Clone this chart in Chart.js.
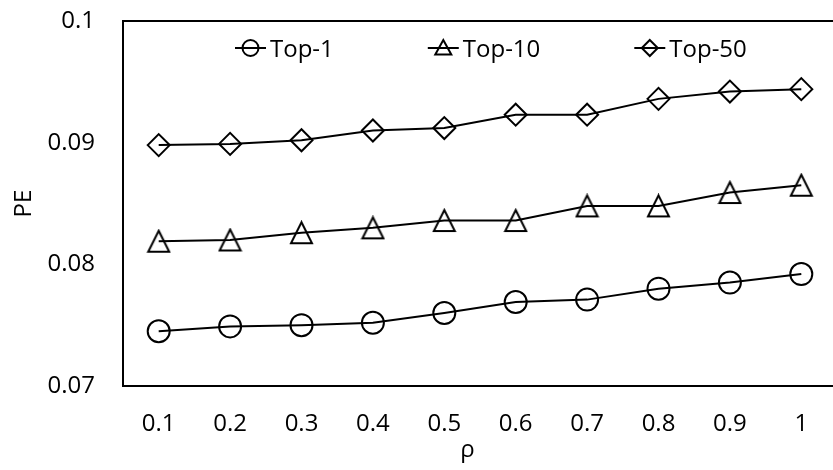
<!DOCTYPE html>
<html>
<head>
<meta charset="utf-8">
<script src="https://cdn.jsdelivr.net/npm/chart.js@4.4.1/dist/chart.umd.min.js"></script>
<style>
    html, body { margin: 0; padding: 0; overflow: hidden; background: #fff; }
    #wrap { width: 850px; height: 470px; }
</style>
</head>
<body>
<div id="wrap"><canvas id="peChart" width="850" height="470"></canvas></div>
<script>
const rhoLabels = ['0.1', '0.2', '0.3', '0.4', '0.5', '0.6', '0.7', '0.8', '0.9', '1'];
const top1 = [0.0745, 0.0749, 0.0750, 0.0752, 0.0760, 0.0769, 0.0771, 0.0780, 0.0785, 0.0792];
const top10 = [0.0819, 0.0820, 0.0826, 0.0830, 0.0836, 0.0836, 0.0848, 0.0848, 0.0859, 0.0865];
const top50 = [0.0898, 0.0899, 0.0902, 0.0910, 0.0912, 0.0923, 0.0923, 0.0936, 0.0942, 0.0944];
const seriesNames = ['Top-1', 'Top-10', 'Top-50'];
const yTicks = [0.07, 0.08, 0.09, 0.1];

const FONT = '"Open Sans", sans-serif';

// hollow triangle, centred on the point (Chart.js' own triangle sits on its circumcentre)
function triangleImage(size, lw) {
    const c = document.createElement('canvas');
    c.width = size + lw * 2;
    c.height = size + lw * 2;
    const g = c.getContext('2d');
    g.strokeStyle = '#000';
    g.lineWidth = lw;
    g.lineJoin = 'miter';
    g.beginPath();
    g.moveTo(c.width / 2, lw);
    g.lineTo(c.width - lw, c.height - lw);
    g.lineTo(lw, c.height - lw);
    g.closePath();
    g.stroke();
    return c;
}

const triBig = triangleImage(21, 2);

function drawMarker(ctx, kind, x, y, r) {
    ctx.beginPath();
    if (kind === 'circle') {
        ctx.arc(x, y, r, 0, Math.PI * 2);
    } else if (kind === 'triangle') {
        ctx.moveTo(x, y - r);
        ctx.lineTo(x + r, y + r * 0.8);
        ctx.lineTo(x - r, y + r * 0.8);
        ctx.closePath();
    } else {
        ctx.moveTo(x, y - r);
        ctx.lineTo(x + r, y);
        ctx.lineTo(x, y + r);
        ctx.lineTo(x - r, y);
        ctx.closePath();
    }
    ctx.stroke();
}

const legendKinds = ['circle', 'triangle', 'diamond'];

const frameAndLegend = {
    id: 'frameAndLegend',
    beforeDatasetsDraw(chart) {
        const a = chart.chartArea;
        const ctx = chart.ctx;
        ctx.save();
        ctx.strokeStyle = '#000';
        ctx.lineWidth = 2;
        ctx.strokeRect(a.left, a.top, a.right - a.left, a.bottom - a.top);
        ctx.restore();
    },
    afterDatasetsDraw(chart) {
        const a = chart.chartArea;
        const ctx = chart.ctx;
        ctx.save();
        ctx.font = '24px ' + FONT;
        ctx.fillStyle = '#000';
        ctx.strokeStyle = '#000';
        ctx.lineWidth = 2;
        ctx.textBaseline = 'middle';
        let x = a.left + 112;
        const y = a.top + 27;
        seriesNames.forEach(function (name, i) {
            ctx.beginPath();
            ctx.moveTo(x, y);
            ctx.lineTo(x + 31, y);
            ctx.stroke();
            drawMarker(ctx, legendKinds[i], x + 15.5, y, 8);
            ctx.fillText(name, x + 35, y + 2);
            x += 35 + ctx.measureText(name).width + 94;
        });
        ctx.restore();
    }
};

function series(label, data, style, radius) {
    return {
        label: label,
        data: data,
        borderColor: '#000',
        borderWidth: 2,
        backgroundColor: 'transparent',
        pointStyle: style,
        pointRadius: radius,
        pointHoverRadius: radius,
        pointBorderColor: '#000',
        pointBackgroundColor: 'transparent',
        pointBorderWidth: 2,
        tension: 0,
        fill: false
    };
}

new Chart(document.getElementById('peChart'), {
    type: 'line',
    data: {
        labels: rhoLabels,
        datasets: [
            series(seriesNames[0], top1, 'circle', 11),
            series(seriesNames[1], top10, triBig, 11),
            series(seriesNames[2], top50, 'rectRot', 11)
        ]
    },
    options: {
        responsive: false,
        animation: false,
        devicePixelRatio: 1,
        layout: { padding: { left: 0, top: 21, right: 10, bottom: 0 } },
        plugins: {
            legend: { display: false },
            tooltip: { enabled: false }
        },
        scales: {
            x: {
                offset: true,
                grid: { display: false, drawTicks: false },
                border: { display: false },
                ticks: {
                    color: '#000',
                    padding: 24,
                    font: { family: FONT, size: 24 }
                },
                title: {
                    display: true,
                    text: 'ρ    ',
                    color: '#000',
                    font: { family: FONT, size: 24 },
                    padding: { top: 0, bottom: 5 }
                },
                afterFit: function (scale) { scale.height = 84; }
            },
            y: {
                min: yTicks[0],
                max: yTicks[yTicks.length - 1],
                afterBuildTicks: function (scale) {
                    scale.ticks = yTicks.map(function (v) { return { value: v }; });
                },
                grid: { display: false, drawTicks: false },
                border: { display: false },
                ticks: {
                    color: '#000',
                    padding: 28,
                    font: { family: FONT, size: 24 },
                    callback: function (value) {
                        return String(Number(Number(value).toFixed(2)));
                    }
                },
                title: {
                    display: true,
                    text: 'PE',
                    color: '#000',
                    font: { family: FONT, size: 24 },
                    padding: { top: 10, bottom: 0 }
                },
                afterFit: function (scale) {
                    scale.width = 123;
                    scale.paddingTop = 0;
                    scale.paddingBottom = 0;
                }
            }
        }
    },
    plugins: [frameAndLegend]
});
</script>
</body>
</html>
